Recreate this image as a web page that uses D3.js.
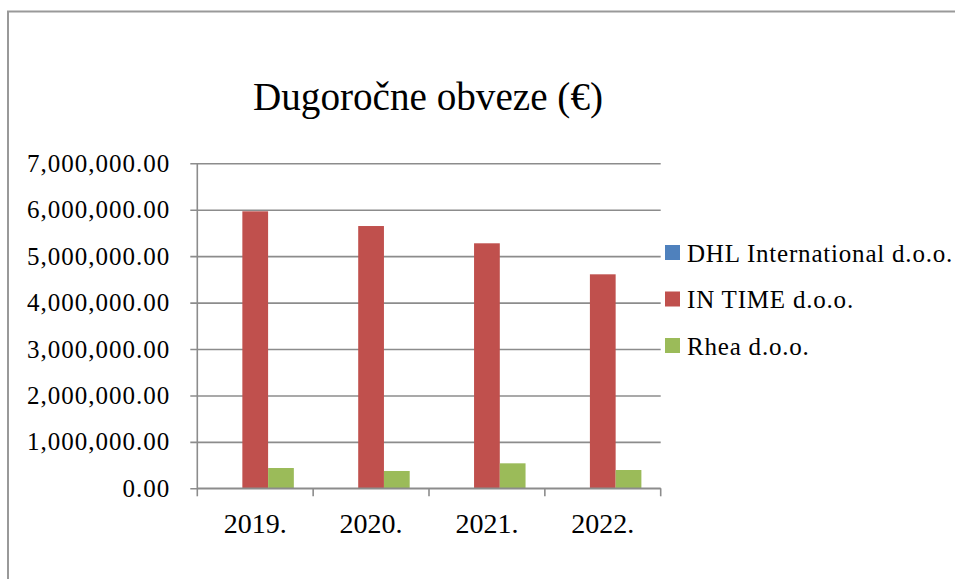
<!DOCTYPE html>
<meta charset="utf-8">
<style>
body { margin: 0; background: #fff; }
text { font-family: "Liberation Serif", "Times New Roman", serif; fill: #000; }
.grid line { stroke: #8c8c8c; stroke-width: 1.6; }
</style>
<svg width="955" height="579"></svg>
<script src="https://cdn.jsdelivr.net/npm/d3@7"></script>
<script>

var years = ["2019.", "2020.", "2021.", "2022."];
var series = ["DHL International d.o.o.", "IN TIME d.o.o.", "Rhea d.o.o."];
var dhl = [0, 0, 0, 0];
var intime = [5966000, 5649000, 5277000, 4609000];
var rhea = [437000, 373000, 538000, 394000];
var yTicks = [0, 1000000, 2000000, 3000000, 4000000, 5000000, 6000000, 7000000];
var colors = ["#4F81BD", "#C0504D", "#9BBB59"];

var values = [dhl, intime, rhea];

var svg = d3.select("svg");

// frame
svg.append("path")
  .attr("d", "M8,600 V11.5 H960")
  .attr("fill", "none")
  .attr("stroke", "#999")
  .attr("stroke-width", 2);

var plotL = 197.3, plotR = 660.7, plotT = 163.3, plotB = 488.3;

var x = d3.scaleBand().domain(years).range([plotL, plotR]);
var inner = d3.scaleBand().domain(series).range([0, x.bandwidth()]).paddingOuter(0.75);
var y = d3.scaleLinear().domain([0, 7000000]).range([plotB, plotT]);

var fmt = d3.format(",.2f");

// gridlines + y axis
var ga = svg.append("g")
  .attr("class", "grid")
  .attr("transform", "translate(" + plotL + ",0)")
  .call(d3.axisLeft(y).tickValues(yTicks).tickSize(-(plotR - plotL)).tickFormat(fmt).tickPadding(27))
  .call(function(g) { g.select(".domain").remove(); });
ga.selectAll(".tick line").attr("x1", -7).attr("x2", plotR - plotL);
ga.selectAll(".tick text")
  .style("font-size", "25px")
  .style("letter-spacing", "1px")
  .attr("fill", "#000");

// y axis line
svg.append("line")
  .attr("x1", plotL).attr("x2", plotL)
  .attr("y1", plotT).attr("y2", plotB)
  .attr("stroke", "#8c8c8c").attr("stroke-width", 1.6);

// bars
series.forEach(function(s, si) {
  svg.append("g").selectAll("rect")
    .data(values[si])
    .enter().append("rect")
    .attr("x", function(d, i) { return x(years[i]) + inner(s); })
    .attr("width", inner.bandwidth())
    .attr("y", function(d) { return y(d); })
    .attr("height", function(d) { return plotB - y(d); })
    .attr("fill", colors[si]);
});

// x axis
svg.append("line")
  .attr("x1", plotL).attr("x2", plotR)
  .attr("y1", plotB).attr("y2", plotB)
  .attr("stroke", "#8c8c8c").attr("stroke-width", 1.6);

var bounds = years.map(function(d) { return x(d); }).concat([plotR]);
svg.append("g").selectAll("line")
  .data(bounds)
  .enter().append("line")
  .attr("x1", function(d) { return d; }).attr("x2", function(d) { return d; })
  .attr("y1", plotB).attr("y2", plotB + 8)
  .attr("stroke", "#8c8c8c").attr("stroke-width", 1.6);

svg.append("g").selectAll("text")
  .data(years)
  .enter().append("text")
  .attr("x", function(d) { return x(d) + x.bandwidth() / 2; })
  .attr("y", 532.5)
  .attr("text-anchor", "middle")
  .style("font-size", "28px")
  .text(function(d) { return d; });

// title
svg.append("text")
  .attr("x", 428)
  .attr("y", 109.5)
  .attr("text-anchor", "middle")
  .attr("textLength", 350)
  .attr("lengthAdjust", "spacingAndGlyphs")
  .style("font-size", "40px")
  .text("Dugoročne obveze (€)");

// legend
var legend = svg.selectAll(".legend")
  .data(series)
  .enter().append("g")
  .attr("class", "legend")
  .attr("transform", function(d, i) { return "translate(665," + (245 + i * 46.5) + ")"; });

legend.append("rect")
  .attr("width", 15).attr("height", 15)
  .attr("fill", function(d, i) { return colors[i]; });

legend.append("text")
  .attr("x", 22)
  .attr("y", 16.5)
  .style("font-size", "25px")
  .style("letter-spacing", "0.8px")
  .text(function(d) { return d; });

</script>
